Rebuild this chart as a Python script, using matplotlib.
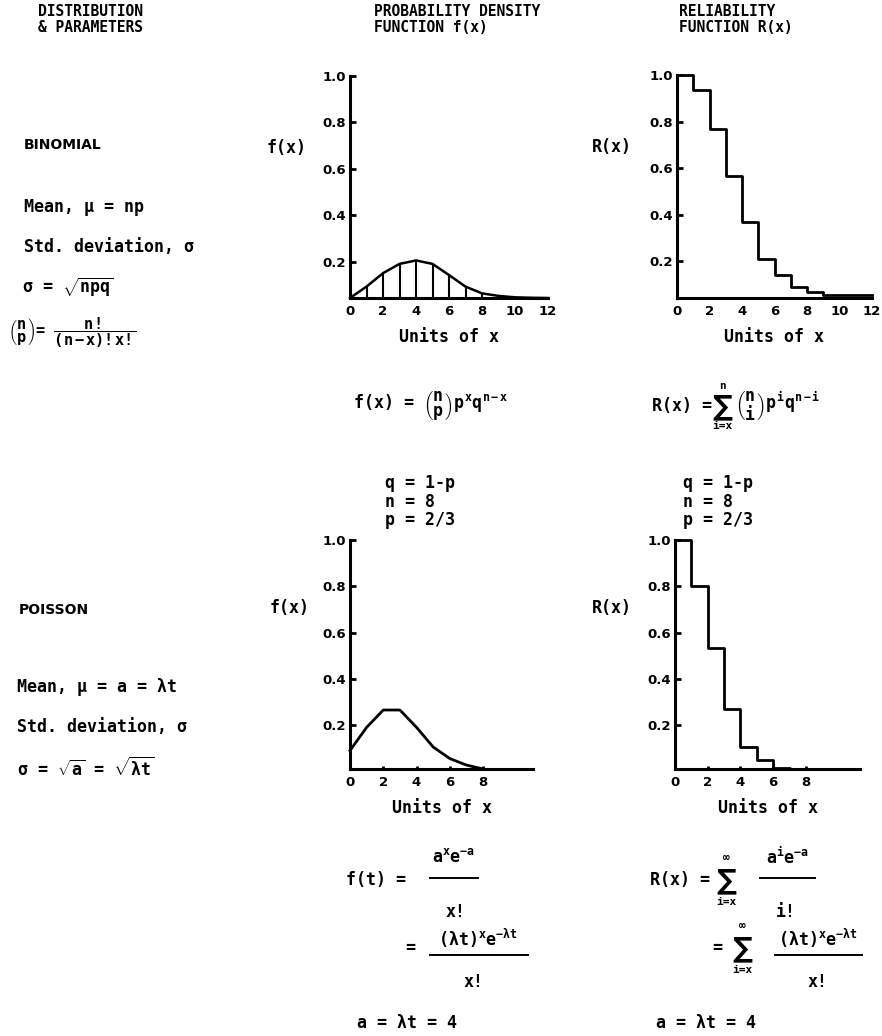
import numpy as np
import matplotlib.pyplot as plt
from matplotlib.lines import Line2D

# Binomial (n = 8, p = 2/3): density curve and reliability steps
binom_x = [0, 1, 2, 3, 4, 5, 6, 7, 8, 9, 10, 11, 12]
binom_f = [0.043, 0.092, 0.15, 0.19, 0.205, 0.19, 0.142, 0.092, 0.063, 0.052, 0.046, 0.044, 0.043]
binom_r_edges = [0, 1, 2, 3, 4, 5, 6, 7, 8, 9, 12]
binom_r = [1.0, 0.935, 0.77, 0.565, 0.37, 0.21, 0.14, 0.09, 0.07, 0.055, 0.055]

# Poisson (a = 4)
pois_x = [0, 1, 2, 3, 4, 5, 6, 7, 8]
pois_f = [0.09, 0.19, 0.265, 0.265, 0.19, 0.105, 0.055, 0.027, 0.01]
pois_r_edges = [0, 1, 2, 3, 4, 5, 6, 7, 11.3]
pois_r = [1.0, 0.80, 0.535, 0.268, 0.105, 0.05, 0.015, 0.01, 0.01]

y_ticks = [0.2, 0.4, 0.6, 0.8, 1.0]
y_labels = ['0.2', '0.4', '0.6', '0.8', '1.0']

W, H = 882, 1036
MONO = 'DejaVu Sans Mono'

plt.rcParams['mathtext.fontset'] = 'custom'
plt.rcParams['mathtext.rm'] = 'DejaVu Sans Mono:bold'
plt.rcParams['mathtext.it'] = 'DejaVu Sans Mono:bold'
plt.rcParams['mathtext.bf'] = 'DejaVu Sans Mono:bold'
plt.rcParams['mathtext.sf'] = 'DejaVu Sans Mono:bold'

fig = plt.figure(figsize=(W / 100, H / 100), dpi=100)


def put(x, y, s, size=12, ha='left', family=MONO):
    # x, y in pixels from the top-left corner
    fig.text(x / W, 1 - y / H, s, fontsize=size, ha=ha, va='center',
             family=family, weight='bold')


def bar(x0, x1, y):
    fig.add_artist(Line2D([x0 / W, x1 / W], [1 - y / H, 1 - y / H],
                          color='black', lw=1.4))


def big_sum(x, y, top, bottom, gap=22):
    # summation sign with its limits stacked above and below
    put(x, y, '∑', size=20, ha='center', family='DejaVu Sans')
    put(x, y - gap, top, size=8, ha='center')
    put(x, y + gap, bottom, size=8, ha='center')


def panel(l, t, r, b, xmax, xticks, ybase, ylab, lab_x, lab_y, xtick_len):
    ax = fig.add_axes([l / W, 1 - b / H, (r - l) / W, (b - t) / H])
    ax.set_xlim(0, xmax)
    ax.set_ylim(ybase, 1.0)
    for s in ['top', 'right']:
        ax.spines[s].set_visible(False)
    for s in ['left', 'bottom']:
        ax.spines[s].set_linewidth(2.2)
    ax.set_yticks(y_ticks, y_labels)
    ax.set_xticks(xticks, [str(v) for v in xticks])
    ax.tick_params(axis='y', direction='in', length=4, width=2, pad=3, labelsize=9.5)
    ax.tick_params(axis='x', direction='in', length=xtick_len, width=2, pad=5, labelsize=9.5)
    for lbl in ax.get_xticklabels() + ax.get_yticklabels():
        lbl.set_fontweight('bold')
    ax.set_xlabel('Units of x', family=MONO, weight='bold', fontsize=12, labelpad=7)
    ax.set_ylabel(ylab, rotation=0, ha='right', va='center', family=MONO,
                  weight='bold', fontsize=12)
    ax.yaxis.set_label_coords(lab_x, lab_y)
    ax.patch.set_alpha(0)
    return ax


# headers
put(38, 12, 'DISTRIBUTION', size=10.5)
put(38, 28, '& PARAMETERS', size=10.5)
put(374, 12, 'PROBABILITY DENSITY', size=10.5)
put(374, 28, 'FUNCTION f(x)', size=10.5)
put(679, 12, 'RELIABILITY', size=10.5)
put(679, 28, 'FUNCTION R(x)', size=10.5)

# binomial row
ax1 = panel(350, 76, 548, 298, 12, [0, 2, 4, 6, 8, 10, 12], 0.043, 'f(x)', -0.217, 0.676, 0)
ax1.plot(binom_x, binom_f, color='black', lw=1.8, clip_on=False)
ax1.vlines(binom_x[1:9], 0.043, binom_f[1:9], color='black', lw=1.5)

ax2 = panel(677, 75, 872, 298, 12, [0, 2, 4, 6, 8, 10, 12], 0.043, 'R(x)', -0.231, 0.676, 0)
ax2.step(binom_r_edges, binom_r, where='post', color='black', lw=2, clip_on=False)

put(24, 145, 'BINOMIAL', size=10, family='DejaVu Sans')
put(24, 207, 'Mean, µ = np')
put(24, 247, 'Std. deviation, σ')
put(22, 287, r'σ = $\sqrt{npq}$')
put(8, 333, r'$\genfrac{(}{)}{0}{0}{n}{p}$= $\dfrac{n!}{(n-x)!x!}$', size=11)

put(353, 406, r'f(x) = $\genfrac{(}{)}{0}{0}{n}{p}p^{x}q^{n-x}$')
put(652, 406, 'R(x) =')
big_sum(722, 406, 'n', 'i=x', gap=20)
put(735, 406, r'$\genfrac{(}{)}{0}{0}{n}{i}p^{i}q^{n-i}$')
for col in [385, 683]:
    put(col, 483, 'q = 1-p')
    put(col, 502, 'n = 8')
    put(col, 520, 'p = 2/3')

# poisson row
ax3 = panel(350, 540, 533, 769, 11, [0, 2, 4, 6, 8], 0.01, 'f(x)', -0.219, 0.703, 2)
ax3.plot(pois_x, pois_f, color='black', lw=2, clip_on=False)

ax4 = panel(675, 540, 860, 769, 11.3, [0, 2, 4, 6, 8], 0.01, 'R(x)', -0.232, 0.703, 2)
ax4.step(pois_r_edges, pois_r, where='post', color='black', lw=2, clip_on=False)

put(19, 610, 'POISSON', size=10, family='DejaVu Sans')
put(17, 687, 'Mean, µ = a = λt')
put(17, 727, 'Std. deviation, σ')
put(17, 768, r'σ = $\sqrt{a}$ = $\sqrt{\lambda t}$')

put(346, 880, 'f(t) =')
put(454, 857, r'a$^{x}$e$^{-a}$', ha='center')
bar(430, 478, 878)
put(456, 912, 'x!', ha='center')
put(405, 948, '=')
put(478, 938, r'($\lambda$t)$^{x}$e$^{-\lambda t}$', ha='center')
bar(430, 528, 955)
put(474, 982, 'x!', ha='center')
put(357, 1023, 'a = λt = 4')

put(650, 880, 'R(x) =')
big_sum(726, 880, '∞', 'i=x')
put(788, 857, r'a$^{i}$e$^{-a}$', ha='center')
bar(760, 815, 878)
put(786, 912, 'i!', ha='center')
put(712, 948, '=')
big_sum(742, 948, '∞', 'i=x')
put(818, 938, r'($\lambda$t)$^{x}$e$^{-\lambda t}$', ha='center')
bar(775, 862, 955)
put(818, 982, 'x!', ha='center')
put(656, 1023, 'a = λt = 4')

fig.savefig('out.png', dpi=100)
